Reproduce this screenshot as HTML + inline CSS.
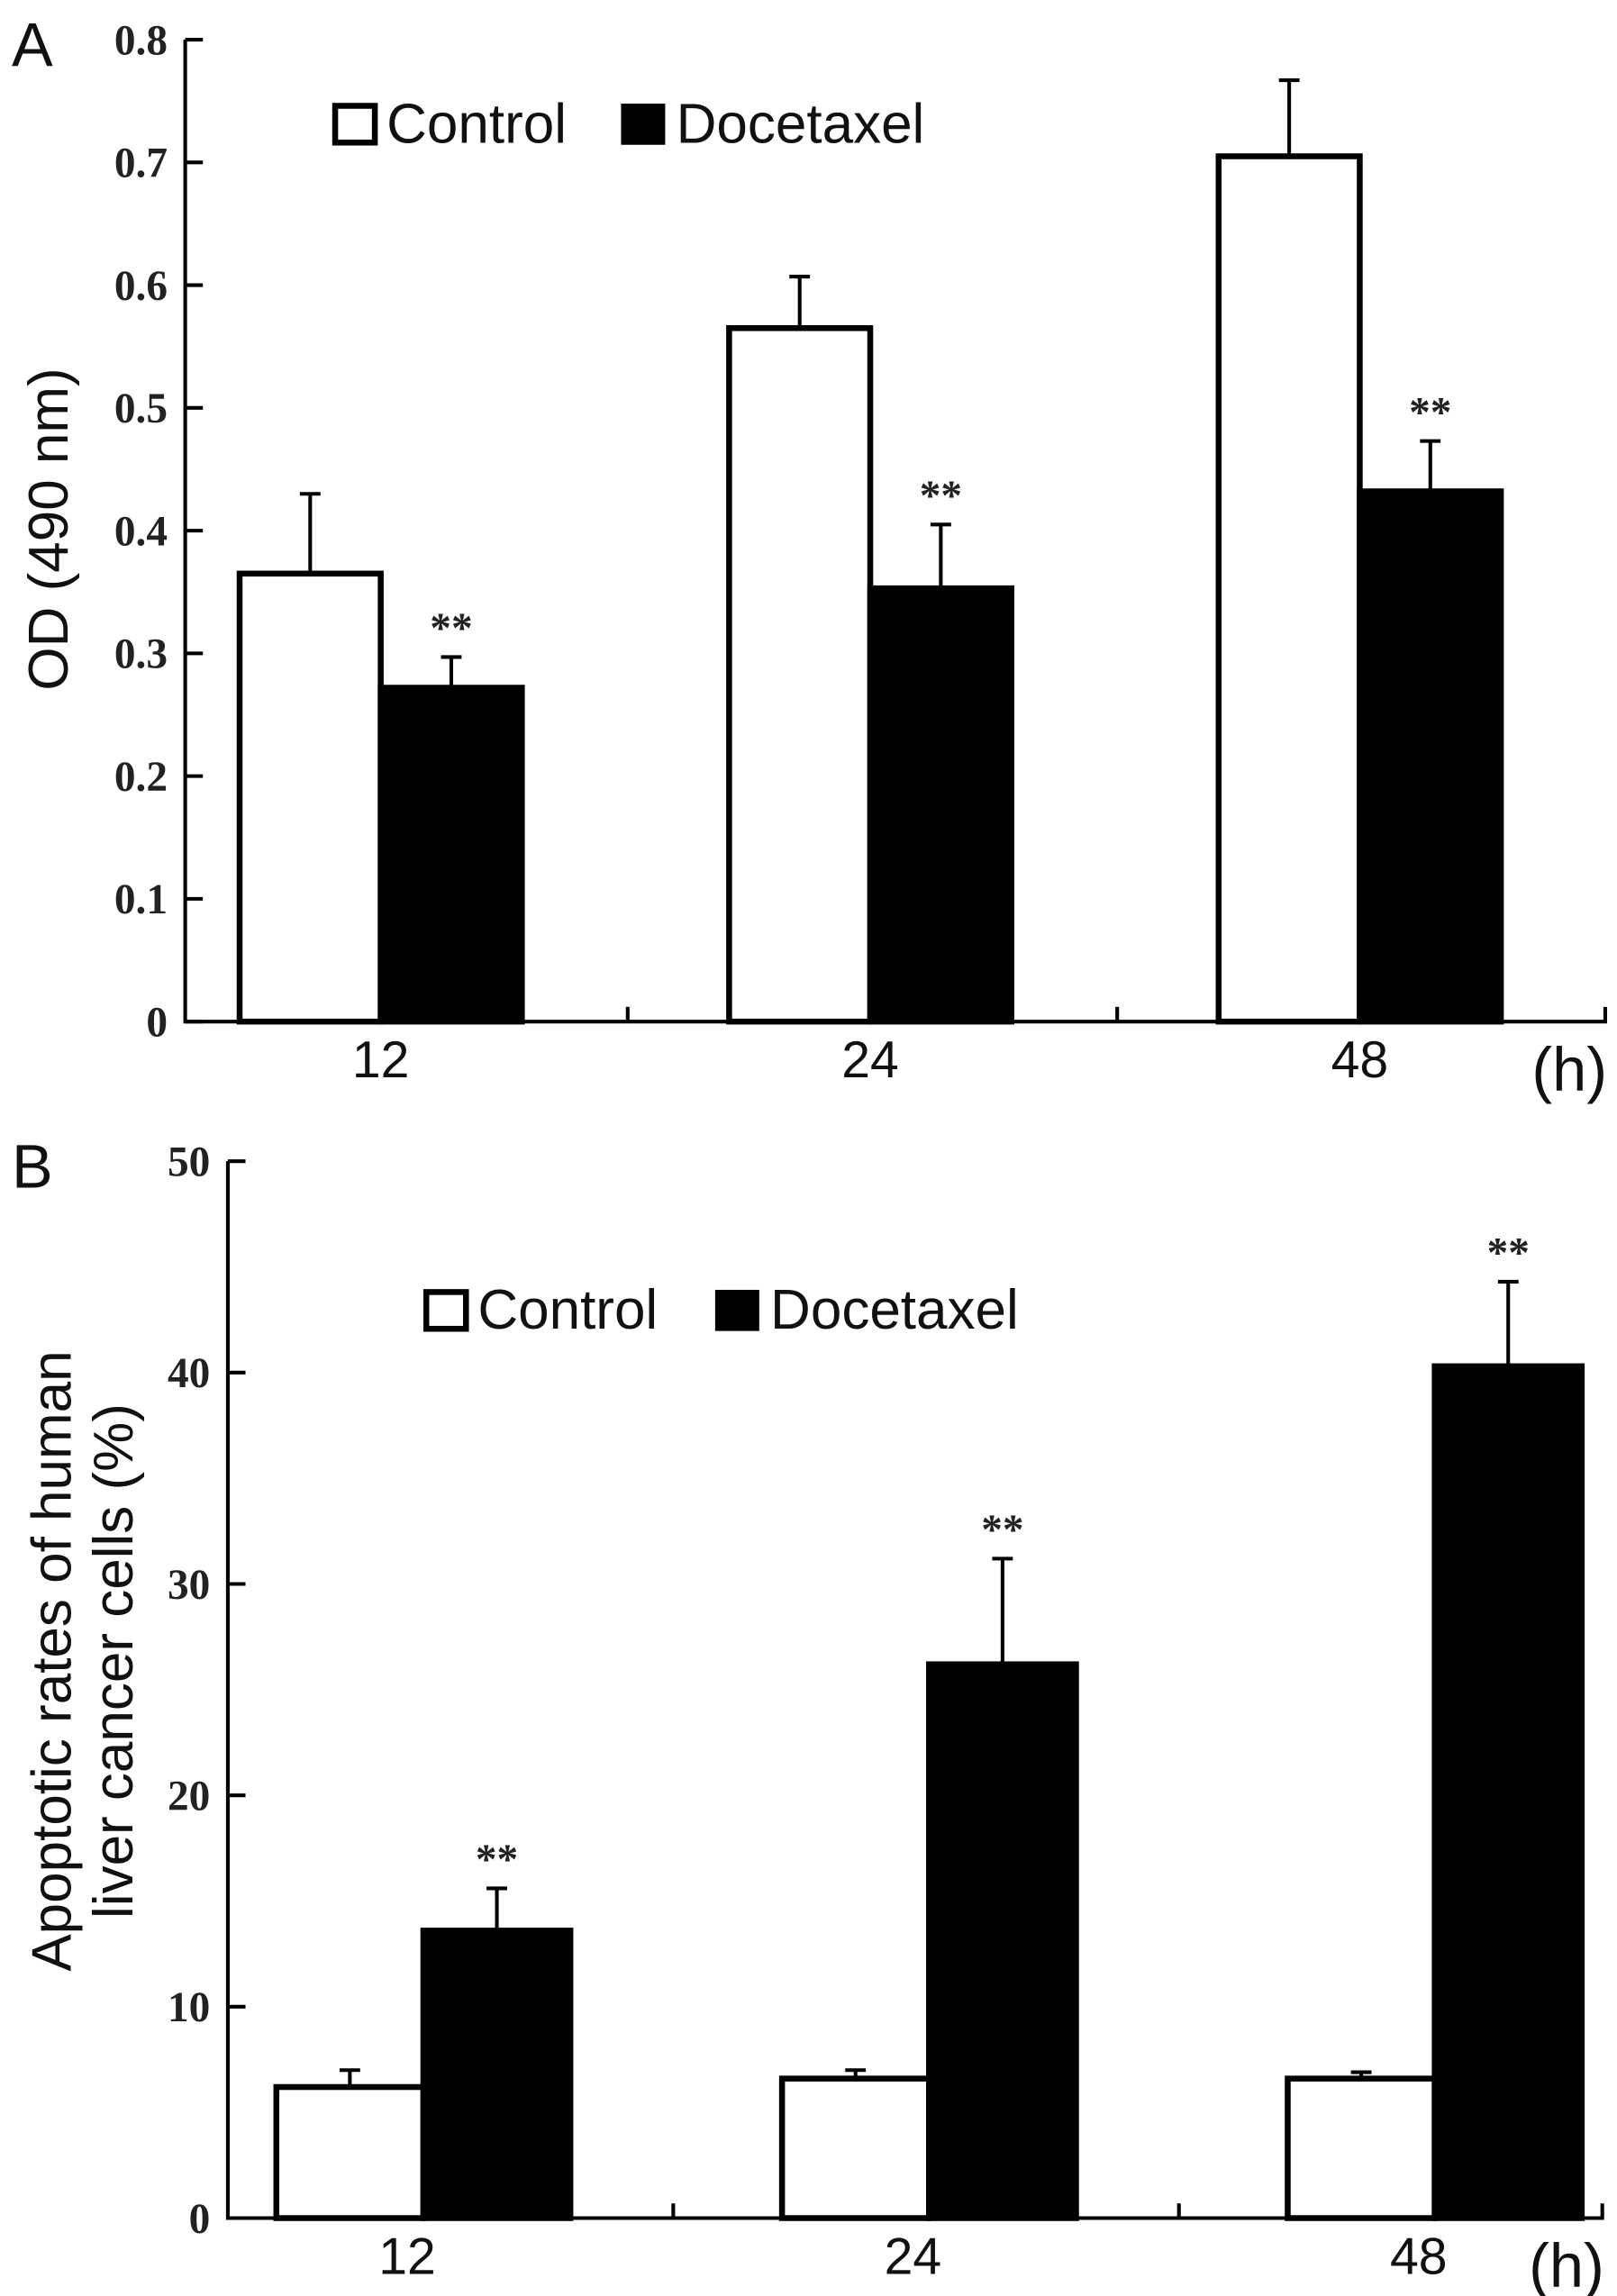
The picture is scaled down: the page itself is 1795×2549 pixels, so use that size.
<!DOCTYPE html>
<html><head><meta charset="utf-8"><style>
html,body{margin:0;padding:0;background:#fff}
svg{display:block}
.tk{font-family:"Liberation Serif",serif;font-size:29px;font-weight:600;fill:#222}
.sa{font-family:"Liberation Sans",sans-serif;fill:#111}
</style></head><body>
<svg id="fig" width="1795" height="2549" viewBox="0 0 1100 1562" preserveAspectRatio="none" xmlns="http://www.w3.org/2000/svg">
<rect width="1100" height="1562" fill="#fff"/>
</svg>
<script>
const categories = ["12","24","48"];
const aControl = [0.365,0.565,0.705];
const aControlErr = [0.43,0.607,0.767];
const aDoc = [0.272,0.353,0.432];
const aDocErr = [0.297,0.405,0.473];
const aTicks = ["0","0.1","0.2","0.3","0.4","0.5","0.6","0.7","0.8"];
const bControl = [6.2,6.6,6.6];
const bControlErr = [7.0,7.0,6.9];
const bDoc = [13.6,26.2,40.3];
const bDocErr = [15.6,31.2,44.3];
const bTicks = ["0","10","20","30","40","50"];

const NS="http://www.w3.org/2000/svg";
const svg=document.getElementById('fig');
function mk(tag,attrs,parent){const e=document.createElementNS(NS,tag);for(const k in attrs)e.setAttribute(k,attrs[k]);(parent||svg).appendChild(e);return e;}

function panel(o){
  const g=mk('g',{});
  
  
  const yS=v=>o.y0-(v/o.max)*(o.y0-o.yTop);
  const ax=mk('path',{d:`M${o.x0},${o.yTop} V${o.y0} H${o.xEnd} V${o.y0-10}`,stroke:'#000','stroke-width':2.5,fill:'none'},g);
  
  
  o.ticks.forEach(t=>{
    const y=yS(parseFloat(t));
    mk('line',{x1:o.x0,x2:o.x0+12,y1:y,y2:y,stroke:'#000','stroke-width':2.5},g);
    const tx=mk('text',{x:o.x0-12,y:y+10,'text-anchor':'end',class:'tk'},g);
    tx.textContent=t;
    
    
  });
  const gw=o.gw;
  categories.forEach((c,i)=>{
    const gx=o.start+gw*i;
    if(i>0){const sx=gx-(gw-o.sepOff);mk('line',{x1:sx,x2:sx,y1:o.y0,y2:o.y0-10,stroke:'#000','stroke-width':2.5},g);}
    const draw=(v,e,x,fill,nm)=>{
      const y=yS(v),ye=yS(e),cx=x+o.bw/2;
      const er=mk('path',{d:`M${cx},${y} V${ye} M${cx-7},${ye} H${cx+7}`,stroke:'#000','stroke-width':2.5,fill:'none'},g);
      
      
      const r=mk('rect',{x:x,y:y,width:o.bw,height:o.y0-y,fill:fill,stroke:'#000','stroke-width':4},g);
      
      
      return ye;
    };
    draw(o.ctl[i],o.ctlE[i],gx,'#fff','control');
    const ye=draw(o.doc[i],o.docE[i],gx+o.bw,'#000','docetaxel');
    const st=mk('text',{x:gx+o.bw*1.5,y:ye-10,'text-anchor':'middle',class:'tk','font-size':'22',fill:'#444'},g);
    st.textContent='**';
    
    
    const lb=mk('text',{x:gx+o.lblOff,y:o.y0+38,'text-anchor':'middle',class:'sa','font-size':'35'},g);
    lb.textContent=c;
    
    
  });
  const h=mk('text',{x:o.xEnd-50,y:o.y0+47,class:'sa','font-size':'42'},g);
  h.textContent='(h)';
  
  
  const l1=mk('rect',{x:o.lx,y:o.ly-12,width:27,height:25,fill:'#fff',stroke:'#000','stroke-width':4},g);
  
  
  const t1=mk('text',{x:o.lx+35,y:o.ly+13,class:'sa','font-size':'38'},g);t1.textContent='Control';
  
  
  const l2=mk('rect',{x:o.lx2,y:o.ly-12,width:27,height:25,fill:'#000',stroke:'#000','stroke-width':3},g);
  
  
  const t2=mk('text',{x:o.lx2+36,y:o.ly+13,class:'sa','font-size':'38'},g);t2.textContent='Docetaxel';
  
  
  const P=mk('text',{x:8,y:o.yTop+18,class:'sa','font-size':'42'},g);P.textContent=o.letter;
  
  
}
panel({name:'panel-a-chart',letter:'A',x0:126,xEnd:1092,yTop:27,y0:695,max:0.8,ticks:aTicks,ctl:aControl,ctlE:aControlErr,doc:aDoc,docE:aDocErr,start:163,gw:333,sepOff:264,bw:96,lblOff:96,lx:228,lx2:424,ly:84});
panel({name:'panel-b-chart',letter:'B',x0:155,xEnd:1090,yTop:790,y0:1509,max:50,ticks:bTicks,ctl:bControl,ctlE:bControlErr,doc:bDoc,docE:bDocErr,start:188,gw:344,sepOff:270,bw:100,lblOff:89,lx:290,lx2:488,ly:891});

function ytitle(txt,x,y,nm){const t=mk('text',{x:0,y:0,transform:`translate(${x},${y}) rotate(-90)`,'text-anchor':'middle',class:'sa','font-size':'38'});t.textContent=txt;

}
ytitle('OD (490 nm)',46,360,'y-axis-title-a');
ytitle('Apoptotic rates of human',48,1130,'y-axis-title-b-line1');
ytitle('liver cancer cells (%)',90,1130,'y-axis-title-b-line2');
</script>
</body></html>
